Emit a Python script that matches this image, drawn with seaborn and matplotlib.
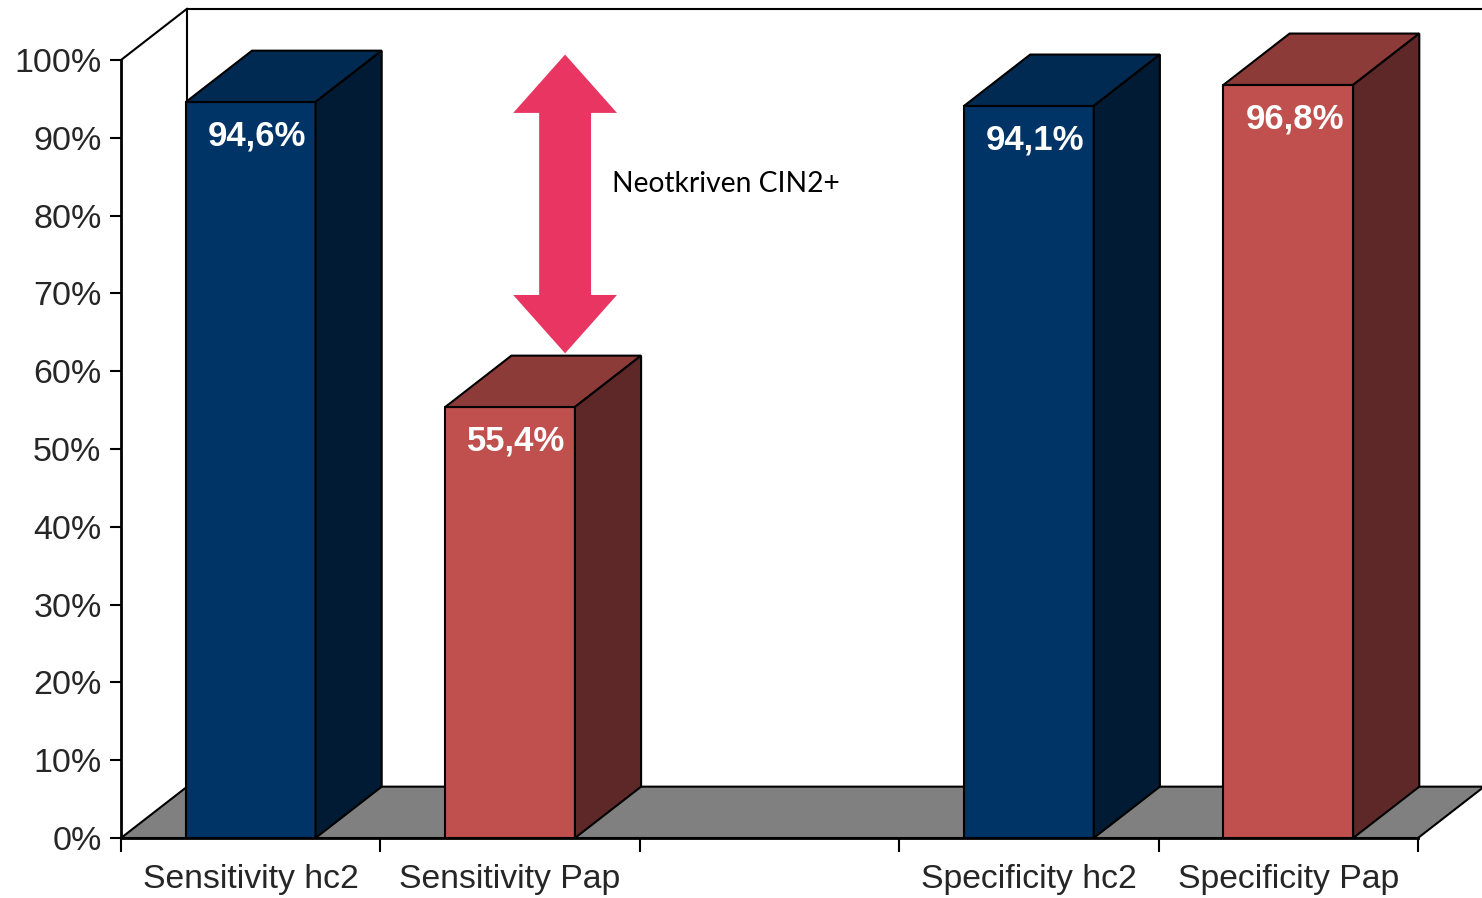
import matplotlib
matplotlib.use("Agg")
import matplotlib.pyplot as plt
from matplotlib.patches import Polygon
import seaborn as sns
import pandas as pd

# --- data -------------------------------------------------------------
categories = ["Sensitivity hc2", "Sensitivity Pap", "Specificity hc2", "Specificity Pap"]
values = [94.6, 55.4, 94.1, 96.8]
value_labels = ["94,6%", "55,4%", "94,1%", "96,8%"]
slot_order = ["Sensitivity hc2", "Sensitivity Pap", " ", "Specificity hc2", "Specificity Pap"]
y_ticks = [0, 10, 20, 30, 40, 50, 60, 70, 80, 90, 100]
y_tick_labels = ["0%", "10%", "20%", "30%", "40%", "50%", "60%", "70%", "80%", "90%", "100%"]
gap_text = "Neotkriven CIN2+"

# face colours per category: front, top, side
front_colors = {"Sensitivity hc2": "#003366", "Sensitivity Pap": "#C0504D",
                "Specificity hc2": "#003366", "Specificity Pap": "#C0504D"}
top_colors = {"Sensitivity hc2": "#002A52", "Sensitivity Pap": "#8D3B39",
              "Specificity hc2": "#002A52", "Specificity Pap": "#8D3B39"}
side_colors = {"Sensitivity hc2": "#001B33", "Sensitivity Pap": "#5E2828",
               "Specificity hc2": "#001B33", "Specificity Pap": "#5E2828"}

df = pd.DataFrame({"category": categories, "value": values})

sns.set_style("white")
plt.rcParams["font.family"] = ["Liberation Sans", "DejaVu Sans"]

fig = plt.figure(figsize=(14.82, 8.98), dpi=100)
ax = fig.add_axes([121 / 1482, 60 / 898, 1297 / 1482, 778 / 898])

# oblique depth of the pseudo-3D projection (category units, percent units)
DX, DY = 0.255, 6.6
EDGE = dict(edgecolor="black", linewidth=1.5)

sns.barplot(data=df, x="category", y="value", hue="category", order=slot_order,
            hue_order=categories, palette=front_colors, saturation=1, width=0.5,
            legend=False, ax=ax, zorder=3, **EDGE)

ax.set_xlim(-0.5, len(slot_order) - 0.5)
ax.set_ylim(0, 100)
x0, x1 = ax.get_xlim()

# back wall and side wall outlines
ax.plot([x0 + DX, x0 + DX, x1 + DX], [DY, 100 + DY, 100 + DY], color="black",
        lw=1.5, clip_on=False, zorder=0)
ax.plot([x0, x0 + DX], [100, 100 + DY], color="black", lw=1.5, clip_on=False, zorder=0)

# floor
floor = Polygon([(x0, 0), (x1, 0), (x1 + DX, DY), (x0 + DX, DY)], closed=True,
                facecolor="#808080", clip_on=False, zorder=1, **EDGE)
ax.add_patch(floor)

# top and side faces of each bar, plus the value label
label_of = dict(zip(categories, value_labels))
cat_of_pos = {i: c for i, c in enumerate(slot_order)}
for bar in list(ax.patches):
    if bar is floor:
        continue
    bx, bw, bh = bar.get_x(), bar.get_width(), bar.get_height()
    if not bh or bh != bh:
        continue
    cat = cat_of_pos[int(round(bx + bw / 2))]
    top = Polygon([(bx, bh), (bx + bw, bh), (bx + bw + DX, bh + DY), (bx + DX, bh + DY)],
                  closed=True, facecolor=top_colors[cat], clip_on=False, zorder=3, **EDGE)
    side = Polygon([(bx + bw, 0), (bx + bw + DX, DY), (bx + bw + DX, bh + DY), (bx + bw, bh)],
                   closed=True, facecolor=side_colors[cat], clip_on=False, zorder=3, **EDGE)
    ax.add_patch(top)
    ax.add_patch(side)
    ax.text(bx + bw / 2 + 0.025, bh - 4.4, label_of[cat], color="white", fontsize=25,
            fontweight="bold", ha="center", va="center", zorder=5)

# double-headed arrow marking the sensitivity gap
ac = 1.212
hi = values[0] + DY - 0.5
lo = values[1] + DY + 0.3
hw, sw, hl = 0.2, 0.1, 7.5
arrow = Polygon([(ac, hi), (ac + hw, hi - hl), (ac + sw, hi - hl), (ac + sw, lo + hl),
                 (ac + hw, lo + hl), (ac, lo), (ac - hw, lo + hl), (ac - sw, lo + hl),
                 (ac - sw, hi - hl), (ac - hw, hi - hl)], closed=True,
                facecolor="#E83562", edgecolor="none", clip_on=False, zorder=4)
ax.add_patch(arrow)
ax.text(1.393, 84.0, gap_text, fontsize=20.3, family=["Lato", "DejaVu Sans"],
        ha="left", va="center", color="black", zorder=5)

# axes styling
for s in ["top", "right"]:
    ax.spines[s].set_visible(False)
for s in ["left", "bottom"]:
    ax.spines[s].set_linewidth(2)
    ax.spines[s].set_color("black")
    ax.spines[s].set_zorder(6)

ax.set_yticks(y_ticks)
ax.set_yticklabels(y_tick_labels)
ax.tick_params(axis="y", direction="out", length=8, width=1.5, color="black",
               labelsize=24.5, pad=6, left=True)

bounds = [x0 + i for i in range(len(slot_order) + 1)]
ax.set_xticks(bounds)
ax.set_xticklabels([""] * len(bounds))
ax.set_xticks(range(len(slot_order)), minor=True)
ax.set_xticklabels(slot_order, minor=True)
ax.tick_params(axis="x", which="major", direction="out", length=10, width=1.5,
               color="black", bottom=True)
ax.tick_params(axis="x", which="minor", length=0, labelsize=24.3, pad=19)
ax.set_xlabel("")
ax.set_ylabel("")
ax.set_facecolor("none")
ax.grid(False)

fig.savefig("out.png", dpi=100, facecolor="white")
